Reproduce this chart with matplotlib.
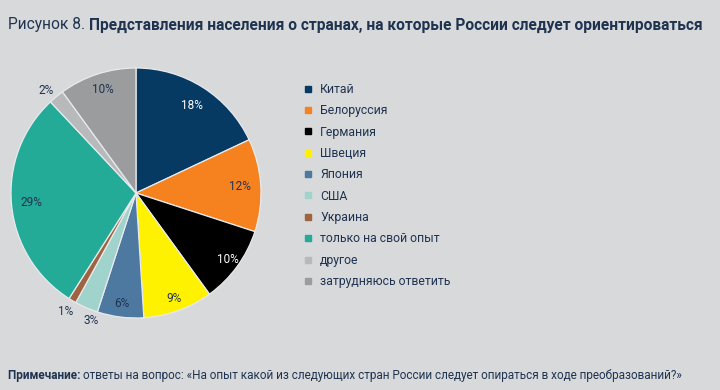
import matplotlib.pyplot as plt
import numpy as np
from matplotlib.lines import Line2D

plt.rcParams['font.family'] = ['Roboto', 'DejaVu Sans']

categories = ["Китай", "Белоруссия", "Германия", "Швеция", "Япония", "США",
              "Украина", "только на свой опыт", "другое", "затрудняюсь ответить"]
shares = [18, 12, 10, 9, 6, 3, 1, 29, 2, 10]
colors = ["#073a63", "#f5821f", "#000000", "#fff200", "#4d79a0", "#9fd3cb",
          "#a0633f", "#23ab97", "#b8b9bb", "#9b9c9e"]
text_colors = ["white", "#1f3350", "white", "#1f3350", "#1f3350", "#1f3350",
               "#1f3350", "#1f3350", "#1f3350", "#1f3350"]
# label radius and angle nudge (deg) per slice
label_r = [0.83, 0.83, 0.91, 0.9, 0.89, 1.08, 1.10, 0.84, 1.09, 0.87]
label_nudge = [0, 0, 0, 0, 0, 4, 0, 0, 1.5, 0]

BG = "#d8d9db"
fig = plt.figure(figsize=(7.2, 3.9), dpi=100, facecolor=BG)

ax = fig.add_axes([11 / 720, 72 / 390, 250 / 720, 250 / 390])
ax.set_facecolor(BG)
wedges, _ = ax.pie(shares, colors=colors, startangle=90, counterclock=False,
                   radius=1, wedgeprops=dict(edgecolor="#e8eaee", linewidth=0.9))
ax.set_xlim(-1, 1)
ax.set_ylim(-1, 1)
ax.set_aspect("equal")
ax.axis("off")

for w, v, r, nd, tc in zip(wedges, shares, label_r, label_nudge, text_colors):
    ang = np.deg2rad((w.theta1 + w.theta2) / 2 + nd)
    ax.text(r * np.cos(ang), r * np.sin(ang), f"{v}%", ha="center", va="center",
            fontsize=8.5, color=tc)

handles = [Line2D([], [], marker="s", linestyle="none", markersize=5,
                  markerfacecolor=c, markeredgecolor=c) for c in colors]
leg = fig.legend(handles, categories, loc="upper left",
                 bbox_to_anchor=(298 / 720, 1 - 78 / 390), frameon=False,
                 fontsize=8.8, labelspacing=0.685, handlelength=0.8,
                 handletextpad=0.6, borderaxespad=0)
for t in leg.get_texts():
    t.set_color("#1f3350")

# title
t1 = fig.text(8 / 720, 1 - 25 / 390, "Рисунок 8. ", fontsize=11.2,
              color="#1f3350", va="center", ha="left")
fig.canvas.draw()
bb = t1.get_window_extent()
fig.text(bb.x1 / 720, 1 - 25 / 390,
         "Представления населения о странах, на которые России следует ориентироваться",
         fontsize=11.2, fontweight="bold", color="#1f3350", va="center", ha="left")

# note
n1 = fig.text(8 / 720, 1 - 375 / 390, "Примечание: ", fontsize=8.5,
              fontweight="bold", color="#1f3350", va="center", ha="left")
fig.canvas.draw()
bb = n1.get_window_extent()
fig.text(bb.x1 / 720, 1 - 375 / 390,
         "ответы на вопрос: «На опыт какой из следующих стран России следует опираться в ходе преобразований?»",
         fontsize=8.5, color="#1f3350", va="center", ha="left")

fig.savefig("out.png", dpi=100, facecolor=BG)
